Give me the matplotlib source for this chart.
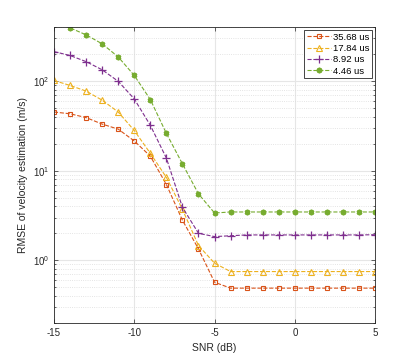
import numpy as np
import matplotlib
matplotlib.use("Agg")
import matplotlib.pyplot as plt
from matplotlib.ticker import LogLocator, NullFormatter, FixedLocator

snr = list(range(-15, 6))

# RMSE of velocity estimation (m/s) per symbol duration
rmse_3568 = [45, 43, 39, 33, 29, 21.4, 14.5, 7.0, 2.8, 1.34, 0.57,
             0.49, 0.49, 0.49, 0.49, 0.49, 0.49, 0.49, 0.49, 0.49, 0.49]
rmse_1784 = [101, 89, 77, 61, 45, 28, 15.6, 8.4, 3.7, 1.46, 0.93,
             0.75, 0.75, 0.75, 0.75, 0.75, 0.75, 0.75, 0.75, 0.75, 0.75]
rmse_892 = [212, 192, 164, 133, 99, 63, 32, 13.8, 3.9, 2.0, 1.84,
            1.88, 1.92, 1.92, 1.92, 1.92, 1.92, 1.92, 1.92, 1.92, 1.93]
rmse_446 = [450, 390, 326, 259, 185, 115, 62, 26, 11.9, 5.5, 3.37,
            3.46, 3.46, 3.46, 3.46, 3.46, 3.46, 3.46, 3.46, 3.46, 3.46]

labels = ["35.68 us", "17.84 us", "8.92 us", "4.46 us"]

plt.rcParams['font.family'] = ['Liberation Sans', 'DejaVu Sans']
plt.rcParams['axes.unicode_minus'] = False

fig = plt.figure(figsize=(4.15, 3.63), dpi=100)
ax = fig.add_axes([0.130, 0.110, 0.774, 0.816])

ax.plot(snr, rmse_3568, '--', color='#D95319', marker='s', ms=3.3, mfc='none',
        mew=0.8, lw=0.8, label=labels[0])
ax.plot(snr, rmse_1784, '--', color='#EDB120', marker='^', ms=5, mfc='none',
        mew=0.8, lw=0.8, label=labels[1])
ax.plot(snr, rmse_892, '--', color='#7E2F8E', marker='+', ms=5.5,
        mew=0.9, lw=0.8, label=labels[2])
ax.plot(snr, rmse_446, '--', color='#77AC30', marker=(6, 2, 0), ms=4,
        mew=1.3, lw=0.8, label=labels[3])

ax.set_yscale('log')
ax.set_xlim(-15, 5)
ax.set_ylim(0.2, 400)
ax.xaxis.set_major_locator(FixedLocator([-15, -10, -5, 0, 5]))
ax.yaxis.set_major_locator(LogLocator(base=10, numticks=10))
ax.yaxis.set_minor_locator(LogLocator(base=10, subs=np.arange(2, 10), numticks=20))
ax.yaxis.set_minor_formatter(NullFormatter())

ax.grid(True, which='major', color='#e6e6e6', lw=0.8)
ax.grid(True, which='minor', axis='y', color='#dcdcdc', lw=0.6, ls=':')
ax.set_axisbelow(True)

for sp in ax.spines.values():
    sp.set_color('#262626')
    sp.set_linewidth(0.6)
ax.tick_params(which='both', direction='in', top=True, right=True,
               labelsize=7, colors='#262626', width=0.5)
ax.tick_params(which='major', length=3)
ax.tick_params(which='minor', length=1.6)

ax.set_xlabel('SNR (dB)', fontsize=7.5, color='#262626', labelpad=4)
ax.set_ylabel('RMSE of velocity estimation (m/s)', fontsize=7.5, color='#262626', labelpad=3)

leg = ax.legend(loc='upper right', fontsize=6.8, handlelength=2.6,
                handletextpad=0.2, borderpad=0.3, labelspacing=0.25,
                fancybox=False, framealpha=1, borderaxespad=0.3)
leg.get_frame().set_edgecolor('#262626')
leg.get_frame().set_linewidth(0.6)

fig.savefig('out.png', dpi=100)
